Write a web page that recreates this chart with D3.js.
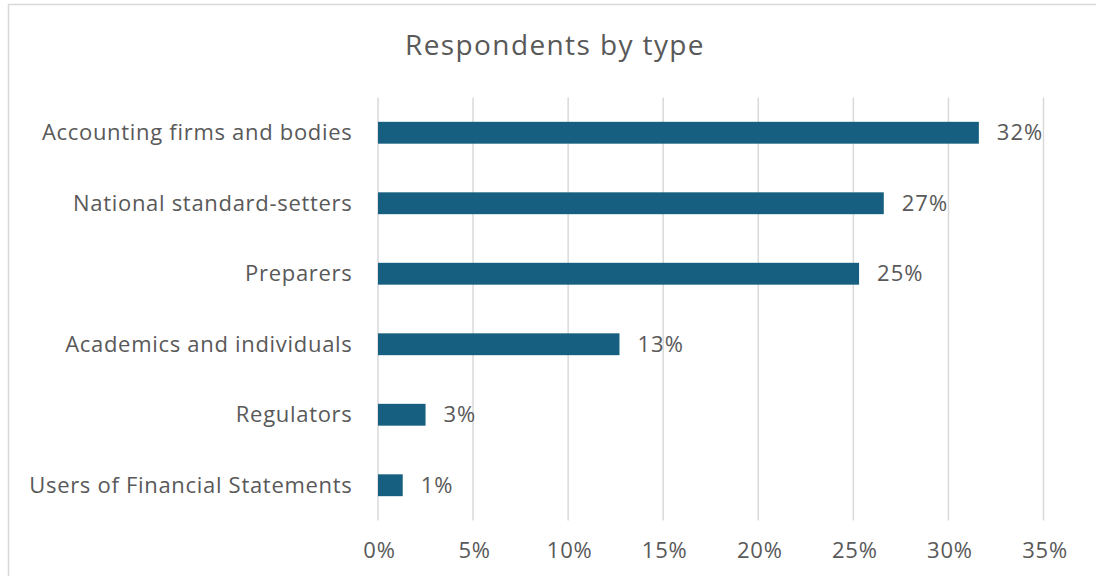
<!DOCTYPE html>
<html>
<head>
<meta charset="utf-8">
<script src="https://cdn.jsdelivr.net/npm/d3@7"></script>
<style>
  html, body { margin: 0; padding: 0; background: #fff; }
  svg { display: block; }
  text { font-family: "Open Sans", "Liberation Sans", sans-serif; fill: #595959; }
</style>
</head>
<body>
<svg id="chart" width="1096" height="576"></svg>
<script>
const categories = [
  "Accounting firms and bodies",
  "National standard-setters",
  "Preparers",
  "Academics and individuals",
  "Regulators",
  "Users of Financial Statements"
];
const values = [31.6, 26.6, 25.3, 12.7, 2.5, 1.3];
const valueLabels = ["32%", "27%", "25%", "13%", "3%", "1%"];
const tickValues = [0, 5, 10, 15, 20, 25, 30, 35];
const title = "Respondents by type";

const svg = d3.select("#chart");
const W = 1096, H = 576;
const plot = { left: 378, right: 1043.5, top: 97.5, bottom: 520.5 };
const FONT = '"Open Sans", "Liberation Sans", sans-serif';

// outer chart border
svg.append("rect")
  .attr("x", 8.5).attr("y", 4.5)
  .attr("width", W + 10).attr("height", H + 10)
  .attr("fill", "#fff").attr("stroke", "#d9d9d9").attr("stroke-width", 1.5);

const x = d3.scaleLinear().domain([0, 35]).range([plot.left, plot.right]);
const y = d3.scaleBand().domain(categories).range([plot.top, plot.bottom]).paddingInner(0.69).paddingOuter(0.345);

// gridlines
svg.append("g").selectAll("line").data(tickValues).join("line")
  .attr("x1", d => x(d)).attr("x2", d => x(d))
  .attr("y1", plot.top).attr("y2", plot.bottom)
  .attr("stroke", "#d9d9d9").attr("stroke-width", 1.5);

// x axis labels
const xAxis = d3.axisBottom(x).tickValues(tickValues).tickFormat(d => d + "%").tickSize(0).tickPadding(0);
const gx = svg.append("g").attr("transform", `translate(0,${plot.bottom})`).call(xAxis);
gx.select(".domain").remove();
gx.selectAll("text").attr("y", 37.5).attr("dy", null)
  .attr("dx", 1)
  .style("font-size", "22px").style("fill", "#595959")
  .style("letter-spacing", "0.8px")
  .style("font-family", FONT);

// y axis labels
const yAxis = d3.axisLeft(y).tickSize(0).tickPadding(25.5);
const gy = svg.append("g").attr("transform", `translate(${plot.left},0)`).call(yAxis);
gy.select(".domain").remove();
gy.selectAll("text").attr("dy", "0.33em")
  .style("font-size", "22px").style("fill", "#595959")
  .style("letter-spacing", "0.7px")
  .style("font-family", FONT);

// bars
const data = categories.map((c, i) => ({ c, v: values[i], l: valueLabels[i] }));
svg.append("g").selectAll("rect").data(data).join("rect")
  .attr("x", x(0))
  .attr("y", d => y(d.c))
  .attr("width", d => x(d.v) - x(0))
  .attr("height", y.bandwidth())
  .attr("fill", "#165f81");

// value labels
svg.append("g").selectAll("text").data(data).join("text")
  .attr("x", d => x(d.v) + 18)
  .attr("y", d => y(d.c) + y.bandwidth() / 2)
  .attr("dy", "0.33em")
  .style("font-size", "22px")
  .style("letter-spacing", "1px")
  .text(d => d.l);

// title
svg.append("text")
  .attr("x", 555).attr("y", 55)
  .attr("text-anchor", "middle")
  .style("font-size", "28px")
  .style("letter-spacing", "1.4px")
  .text(title);
</script>
</body>
</html>
